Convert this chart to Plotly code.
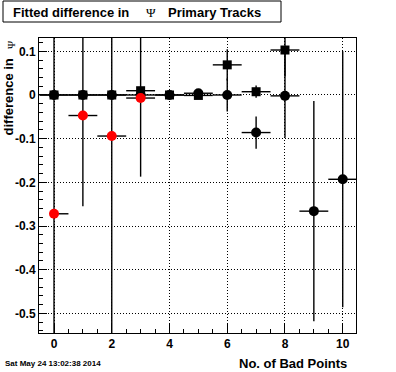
import plotly.graph_objects as go

# ---- data ----
x_circ = [0, 1, 2, 3, 4, 5, 6, 7, 8, 9, 10]
y_circ = [0, 0, 0, 0, 0, 0.004, 0, -0.086, -0.002, -0.266, -0.193]
ey_circ = [0, 0, 0, 0, 0, 0, 0.038, 0.037, 0.096, 0.252, 0.293]

x_sq = [0, 1, 2, 3, 4, 5, 6, 7, 8]
y_sq = [0, 0, 0, 0.0098, 0, -0.001, 0.069, 0.0075, 0.103]
ey_sq = [0, 0, 0, 0, 0, 0, 0.036, 0.014, 0.06]

x_red = [0, 1, 2, 3]
y_red = [-0.272, -0.047, -0.094, -0.007]
ey_red = [0.42, 0.208, 0.5, 0.18]
ex_red_minus = [0, 0.5, 0.5, 0.5]

ex_half = 0.5

y_tickvals = [-0.5, -0.4, -0.3, -0.2, -0.1, 0, 0.1]
y_ticktext = ["-0.5", "-0.4", "-0.3", "-0.2", "-0.1", "0", "0.1"]
x_tickvals = [0, 2, 4, 6, 8, 10]
x_ticktext = ["0", "2", "4", "6", "8", "10"]

# ---- geometry ----
W, H = 396, 372
L, R, T, B = 39, 40, 38, 39
PW, PH = W - L - R, H - T - B


def px(p):
    return (p - L) / PW


def py(p):
    return 1 - (p - T) / PH


FONT = "Liberation Sans"
DOT = "1px,2px"
EW = 1.4

fig = go.Figure()

fig.add_trace(go.Scatter(
    x=x_circ, y=y_circ, mode="markers",
    marker=dict(symbol="circle", size=10, color="black"),
    error_y=dict(type="data", array=ey_circ, color="black", thickness=EW, width=0),
    error_x=dict(type="data", array=[ex_half] * len(x_circ), color="black", thickness=EW, width=0),
    showlegend=False, hoverinfo="skip",
))
fig.add_trace(go.Scatter(
    x=x_sq, y=y_sq, mode="markers",
    marker=dict(symbol="square", size=9, color="black"),
    error_y=dict(type="data", array=ey_sq, color="black", thickness=EW, width=0),
    error_x=dict(type="data", array=[ex_half] * len(x_sq), color="black", thickness=EW, width=0),
    showlegend=False, hoverinfo="skip",
))
fig.add_trace(go.Scatter(
    x=x_red, y=y_red, mode="markers",
    marker=dict(symbol="circle", size=10, color="#ff0000"),
    error_y=dict(type="data", array=ey_red, color="black", thickness=EW, width=0),
    error_x=dict(type="data", array=[ex_half] * len(x_red), arrayminus=ex_red_minus,
                 color="black", thickness=EW, width=0),
    showlegend=False, hoverinfo="skip",
))

fig.update_layout(
    width=W, height=H, autosize=False,
    margin=dict(l=L, r=R, t=T, b=B, pad=0),
    paper_bgcolor="white", plot_bgcolor="white",
    font=dict(family=FONT, color="black"),
    xaxis=dict(
        range=[-0.52, 10.46], showline=True, linecolor="black", linewidth=1, mirror=True,
        tickvals=x_tickvals, ticktext=x_ticktext,
        ticks="inside", ticklen=9, tickcolor="black", tickwidth=1,
        tickfont=dict(family=FONT, size=12, weight="bold"),
        showgrid=True, gridcolor="black", griddash=DOT, gridwidth=1,
        minor=dict(ticks="inside", ticklen=4, dtick=0.5, tick0=0, tickcolor="black", showgrid=False),
        zeroline=False,
    ),
    yaxis=dict(
        range=[-0.545, 0.1305], showline=True, linecolor="black", linewidth=1, mirror=True,
        tickvals=y_tickvals, ticktext=y_ticktext,
        ticks="inside", ticklen=8, tickcolor="black", tickwidth=1,
        tickfont=dict(family=FONT, size=12, weight="bold"),
        showgrid=True, gridcolor="black", griddash=DOT, gridwidth=1,
        minor=dict(ticks="inside", ticklen=4, dtick=0.02, tick0=0, tickcolor="black", showgrid=False),
        zeroline=False,
    ),
)

# title box
fig.add_shape(type="rect", xref="paper", yref="paper",
              x0=px(3), x1=px(281), y0=py(22), y1=py(1),
              line=dict(color="black", width=1), fillcolor="white", layer="above")

anns = [
    dict(text="<b>Fitted difference in</b>", x=px(11), y=py(12), xanchor="left", yanchor="middle",
         font=dict(size=13, family=FONT)),
    dict(text="Ψ", x=px(151), y=py(12), xanchor="center", yanchor="middle",
         font=dict(size=13, family="Liberation Serif")),
    dict(text="<b>Primary Tracks</b>", x=px(166), y=py(12), xanchor="left", yanchor="middle",
         font=dict(size=13, family=FONT)),
    dict(text="<b>No. of Bad Points</b>", x=px(349), y=py(363), xanchor="right", yanchor="middle",
         font=dict(size=13, family=FONT)),
    dict(text="<b>Sat May 24 13:02:38 2014</b>", x=px(3), y=py(363), xanchor="left", yanchor="middle",
         font=dict(size=8, family=FONT)),
    dict(text="<b>difference in</b>", x=px(8), y=py(57), xanchor="center", yanchor="top",
         textangle=-90, font=dict(size=13, family=FONT)),
    dict(text="Ψ", x=px(11), y=py(44), xanchor="center", yanchor="middle",
         textangle=-90, font=dict(size=11, family="Liberation Serif")),
]
for a in anns:
    a.update(xref="paper", yref="paper", showarrow=False)
    fig.add_annotation(**a)

fig.write_html("out.html", config={"displayModeBar": False, "staticPlot": True},
               post_script="document.body.style.margin='0';")
